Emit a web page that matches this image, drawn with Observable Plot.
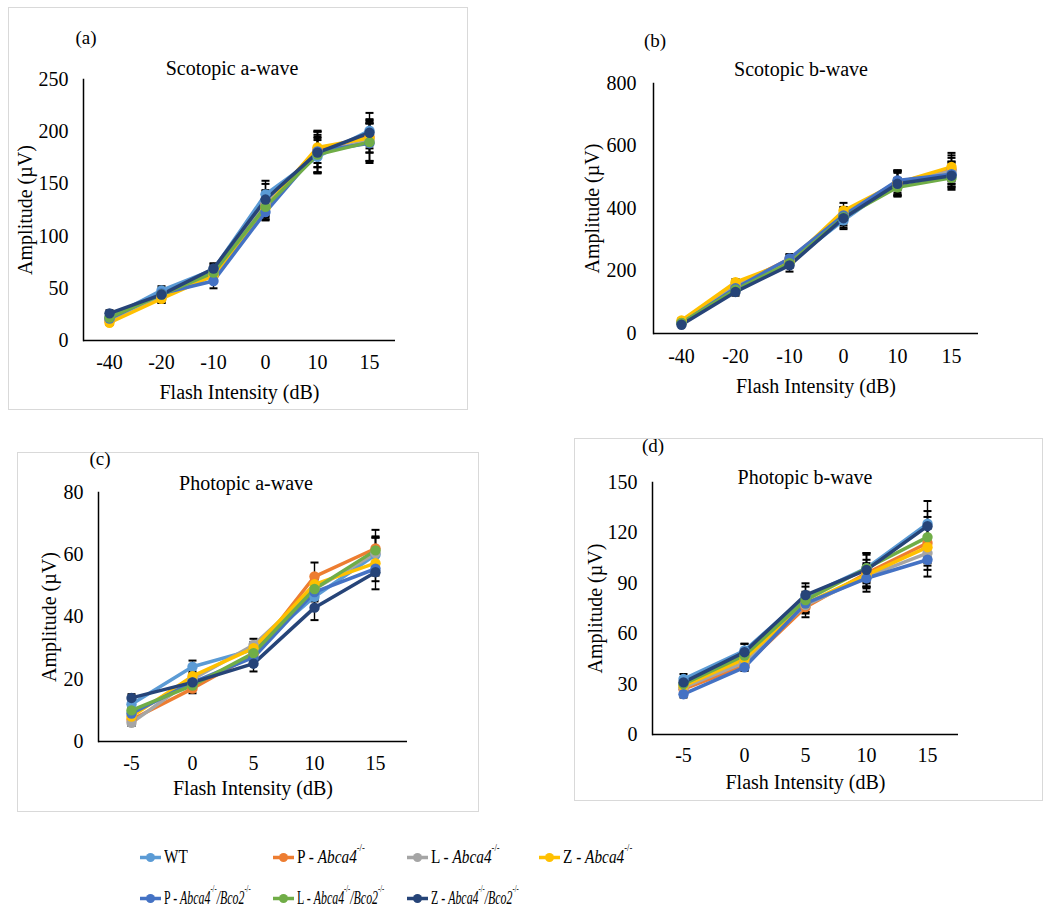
<!DOCTYPE html>
<html>
<head>
<meta charset="utf-8">
<script src="https://cdn.jsdelivr.net/npm/d3@7"></script>
<script src="https://cdn.jsdelivr.net/npm/@observablehq/plot@0.6"></script>
<style>
  body { margin: 0; background: #fff; }
  #root { position: relative; width: 1050px; height: 918px; background: #fff; overflow: hidden;
          font-family: "Liberation Serif", "Times New Roman", serif; color: #000; }
  .box { position: absolute; box-sizing: border-box; border: 1px solid #d9d9d9; }
  .chart { position: absolute; }
  .chart svg { overflow: visible; }
  .lbl { position: absolute; transform: translate(-50%, -50%); white-space: nowrap; font-size: 20px; line-height: 1; }
  .lbl.tag { font-size: 19px; }
  .leg { position: absolute; display: flex; align-items: center; white-space: nowrap; transform: translateY(-50%); }
  .leg svg { display: block; }
  .leg .txt { font-size: 18px; transform-origin: left center; margin-left: 2px; }
  .leg i { font-style: italic; }
  .leg sup { font-size: 10px; vertical-align: 0; position: relative; top: -12px; }
</style>
</head>
<body>
<div id="root"></div>
<script>
// ---------- data ----------
const seriesKeys = ["WT", "P-Abca4", "L-Abca4", "Z-Abca4", "P-Abca4/Bco2", "L-Abca4/Bco2", "Z-Abca4/Bco2"];
const seriesColors = ["#5B9BD5", "#ED7D31", "#A5A5A5", "#FFC000", "#4472C4", "#70AD47", "#264478"];
const legendPrefix = ["WT", "P", "L", "Z", "P", "L", "Z"];
const legendGene1 = [null, "Abca4", "Abca4", "Abca4", "Abca4", "Abca4", "Abca4"];
const legendGene2 = [null, null, null, null, "Bco2", "Bco2", "Bco2"];

const scotopicIntensity = ["-40", "-20", "-10", "0", "10", "15"];
const photopicIntensity = ["-5", "0", "5", "10", "15"];

// Scotopic a-wave (µV), rows follow seriesKeys
const scotopicA = [
  [22, 48, 68, 140, 176, 201],
  [19, 42, 63, 130, 183, 195],
  [20, 41, 64, 131, 179, 192],
  [17, 40, 62, 127, 185, 194],
  [21, 45, 57, 123, 181, 189],
  [22, 44, 65, 128, 178, 190],
  [26, 44, 69, 135, 180, 199]
];
const scotopicAErr = [
  [3, 4, 5, 13, 16, 17],
  [2, 4, 5, 14, 17, 15],
  [2, 5, 6, 12, 18, 20],
  [2, 4, 5, 11, 15, 14],
  [3, 5, 7, 8, 20, 19],
  [2, 4, 6, 10, 17, 18],
  [3, 5, 5, 15, 14, 12]
];

// Scotopic b-wave (µV)
const scotopicB = [
  [35, 150, 228, 362, 485, 510],
  [36, 152, 238, 380, 483, 525],
  [37, 155, 232, 382, 478, 520],
  [42, 164, 230, 393, 482, 533],
  [33, 145, 240, 378, 490, 510],
  [34, 140, 225, 372, 468, 498],
  [28, 133, 218, 369, 479, 505]
];
const scotopicBErr = [
  [5, 12, 15, 28, 35, 40],
  [5, 12, 14, 25, 38, 45],
  [4, 10, 12, 22, 36, 42],
  [6, 10, 12, 25, 40, 45],
  [4, 11, 14, 22, 32, 40],
  [4, 12, 15, 26, 30, 38],
  [4, 12, 20, 30, 38, 40]
];

// Photopic a-wave (µV)
const photopicA = [
  [12, 24, 29.5, 46.5, 60],
  [7, 17, 28, 53, 62],
  [6, 20, 31, 49, 60.5],
  [8, 21, 30, 50.5, 57.3],
  [9, 19, 27, 48, 55.5],
  [10, 18, 28.4, 49, 61.4],
  [14, 19, 25, 43, 54.4]
];
const photopicAErr = [
  [1.5, 2, 2, 3.5, 5.5],
  [1, 1.5, 2, 4.5, 6],
  [1, 1.5, 2, 3.5, 5],
  [1, 1.5, 2, 3, 4],
  [1, 1.5, 2, 3, 4],
  [1, 1.5, 2, 3, 4.5],
  [1.2, 2, 2.5, 4, 5.5]
];

// Photopic b-wave (µV)
const photopicB = [
  [33, 50, 82, 99, 125.5],
  [27, 41, 75.8, 96, 114],
  [28, 43, 77, 94, 108],
  [29, 45, 78, 95, 111.5],
  [24, 40, 78, 93, 104],
  [30, 47, 80, 99, 117.5],
  [31, 49, 83, 98, 124]
];
const photopicBErr = [
  [3, 4, 6, 8, 13.5],
  [2, 3, 6, 8, 12],
  [2, 3, 5, 7, 10],
  [2, 3, 5, 7, 11],
  [2, 2, 5, 8, 10],
  [2, 3, 5, 9, 12],
  [3, 5, 7, 10, 9]
];

const panelTags = ["(a)", "(b)", "(c)", "(d)"];
const panelTitles = ["Scotopic a-wave", "Scotopic b-wave", "Photopic a-wave", "Photopic b-wave"];
const yTicksA = [0, 50, 100, 150, 200, 250];
const yTicksB = [0, 200, 400, 600, 800];
const yTicksC = [0, 20, 40, 60, 80];
const yTicksD = [0, 30, 60, 90, 120, 150];
const xLabel = "Flash Intensity (dB)";
const yLabel = "Amplitude (µV)";

// ---------- helpers ----------
function tidy(intensities, values, errors) {
  const rows = [];
  values.forEach((vals, i) => vals.forEach((v, j) => rows.push({
    series: seriesKeys[i], x: intensities[j], y: v, e: errors[i][j]
  })));
  return rows;
}

// horizontal cap symbol for error bars
const capSymbol = {
  draw(context) {
    context.moveTo(-4, 0);
    context.lineTo(4, 0);
  }
};

const root = document.getElementById("root");

function addLabel(text, cx, cy, cls) {
  const d = document.createElement("div");
  d.className = "lbl" + (cls ? " " + cls : "");
  d.textContent = text;
  d.style.left = cx + "px";
  d.style.top = cy + "px";
  root.appendChild(d);
}

const panels = [
  { rows: tidy(scotopicIntensity, scotopicA, scotopicAErr), dom: scotopicIntensity, ymax: 250, ticks: yTicksA,
    box: [8, 7, 460, 403], border: true, m: [72, 73, 70, 75], ytp: 15, xtp: 14, ylo: 66, xlo: 58,
    tag: [86, 37], title: [232, 68] },
  { rows: tidy(scotopicIntensity, scotopicB, scotopicBErr), dom: scotopicIntensity, ymax: 800, ticks: yTicksB,
    box: [530, 7, 520, 403], border: false, m: [76, 72, 77, 123], ytp: 17, xtp: 15, ylo: 69, xlo: 59,
    tag: [655, 40], title: [801, 69] },
  { rows: tidy(photopicIntensity, photopicA, photopicAErr), dom: photopicIntensity, ymax: 80, ticks: yTicksC,
    box: [17, 452, 462, 360], border: true, m: [40, 72, 71, 81], ytp: 15, xtp: 14, ylo: 57, xlo: 53,
    tag: [100, 458], title: [246, 483] },
  { rows: tidy(photopicIntensity, photopicB, photopicBErr), dom: photopicIntensity, ymax: 150, ticks: yTicksD,
    box: [574, 438, 469, 363], border: true, m: [44, 85, 67, 78], ytp: 15, xtp: 13, ylo: 65, xlo: 54,
    tag: [653, 445], title: [805, 477] }
];

panels.forEach((p, k) => {
  const [L, T, W, H] = p.box;
  if (p.border) {
    const b = document.createElement("div");
    b.className = "box";
    Object.assign(b.style, { left: L + "px", top: T + "px", width: W + "px", height: H + "px" });
    root.appendChild(b);
  }
  const [mt, mr, mb, ml] = p.m;
  const chart = Plot.plot({
    width: W, height: H,
    marginTop: mt, marginRight: mr, marginBottom: mb, marginLeft: ml,
    style: { fontFamily: "'Liberation Serif', 'Times New Roman', serif", fontSize: "20px", background: "transparent", color: "#000" },
    x: { type: "point", domain: p.dom, padding: 0.5 },
    y: { domain: [0, p.ymax] },
    color: { domain: seriesKeys, range: seriesColors },
    marks: [
      Plot.axisX({ tickSize: 0, tickPadding: p.xtp, label: xLabel, labelAnchor: "center", labelOffset: p.xlo, labelArrow: "none" }),
      Plot.axisY({ ticks: p.ticks, tickSize: 0, tickPadding: p.ytp, label: yLabel, labelAnchor: "center", labelOffset: p.ylo, labelArrow: "none" }),
      Plot.ruleX(p.rows, { x: "x", y1: d => d.y - d.e, y2: d => d.y + d.e, stroke: "#000", strokeWidth: 1.4 }),
      Plot.dot(p.rows, { x: "x", y: d => d.y + d.e, symbol: capSymbol, stroke: "#000", strokeWidth: 2, fill: "none" }),
      Plot.dot(p.rows, { x: "x", y: d => d.y - d.e, symbol: capSymbol, stroke: "#000", strokeWidth: 2, fill: "none" }),
      Plot.line(p.rows, { x: "x", y: "y", z: "series", stroke: "series", strokeWidth: 3.5 }),
      Plot.dot(p.rows, { x: "x", y: "y", fill: "series", r: 5.2 }),
      Plot.ruleY([0], { stroke: "#000", strokeWidth: 1.5 }),
      Plot.frame({ anchor: "left", stroke: "#000", strokeWidth: 1.5 })
    ]
  });
  const wrap = document.createElement("div");
  wrap.className = "chart";
  wrap.style.left = L + "px";
  wrap.style.top = T + "px";
  wrap.appendChild(chart);
  root.appendChild(wrap);
  addLabel(panelTags[k], p.tag[0], p.tag[1], "tag");
  addLabel(panelTitles[k], p.title[0], p.title[1]);
});

// ---------- legend ----------
const legendCols = [140, 273, 407, 539];
const legendRows = [857, 898];
const legendRowSqueeze = [0.85, 0.66];
seriesKeys.forEach((key, i) => {
  const row = i < 4 ? 0 : 1;
  const col = i < 4 ? i : i - 4;
  const item = document.createElement("div");
  item.className = "leg";
  item.style.left = legendCols[col] + "px";
  item.style.top = legendRows[row] + "px";
  const sw = d3.create("svg").attr("width", 22).attr("height", 12);
  sw.append("line").attr("x1", 0).attr("x2", 21).attr("y1", 6).attr("y2", 6)
    .attr("stroke", seriesColors[i]).attr("stroke-width", 3.5);
  sw.append("circle").attr("cx", 10.5).attr("cy", 6).attr("r", 4.5).attr("fill", seriesColors[i]);
  item.appendChild(sw.node());
  const t = document.createElement("span");
  t.className = "txt";
  t.style.transform = "scaleX(" + legendRowSqueeze[row] + ")";
  let html = legendPrefix[i];
  if (legendGene1[i]) html += " - <i>" + legendGene1[i] + "</i><sup>-/-</sup>";
  if (legendGene2[i]) html += "<i>/" + legendGene2[i] + "</i><sup>-/-</sup>";
  t.innerHTML = html;
  item.appendChild(t);
  root.appendChild(item);
});
</script>
</body>
</html>
